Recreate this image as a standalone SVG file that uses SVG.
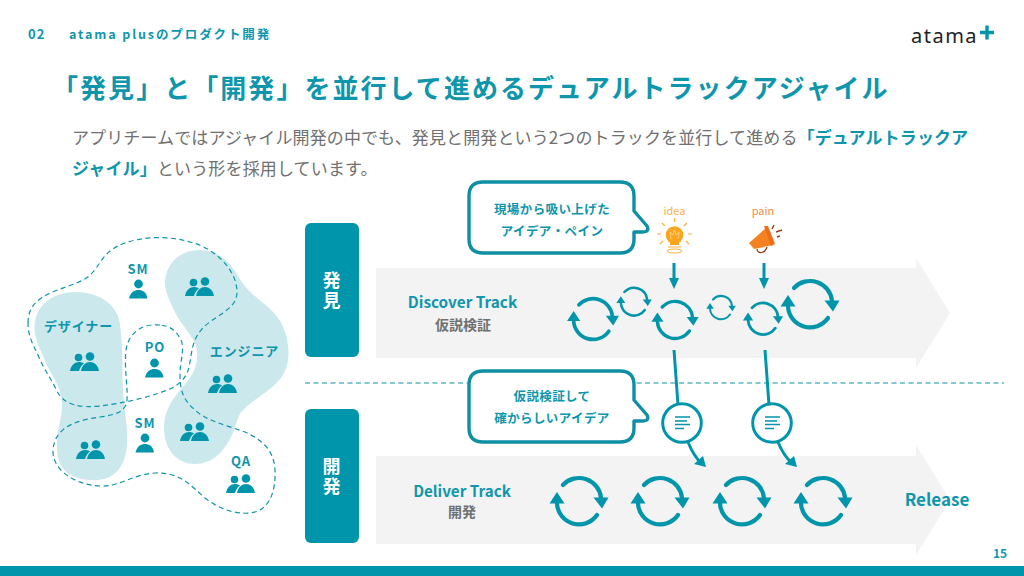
<svg xmlns="http://www.w3.org/2000/svg" width="1024" height="576" viewBox="0 0 1024 576">
<style>
text{font-family:"Noto Sans CJK JP","Noto Sans",sans-serif;font-weight:700;fill:#0f96ac}
.g{fill:#707070}
.n{font-weight:400}
.m{text-anchor:middle}
.v{writing-mode:vertical-rl;fill:#fff;letter-spacing:1.5px}
.em{fill:#0f96ac;font-weight:700}
.dash{fill:none;stroke:#0f93a8;stroke-width:1.2;stroke-dasharray:5 3.5}
.ln{fill:none;stroke:#0095aa;stroke-width:3}
.bub{fill:#fff;stroke:#0f8fa3;stroke-width:3.4;stroke-linejoin:round}
.t{fill:#0095aa}
.doc{fill:#fff;stroke:#0095aa;stroke-width:3}
.dl{stroke:#0095aa;stroke-width:1.6}
</style>
<defs>
<g id="cyc">
<path d="M-16 -15A22 22 0 0 1 22 -2M-22 3A22 22 0 0 0 18 15" fill="none" stroke="#0095aa" stroke-width="4.200" stroke-linecap="round"/>
<path d="M14.500 -2.500H29.500L23 8.500ZM-29.500 3.500H-14.500L-22 -8Z" fill="#0095aa"/>
</g>
<g id="pair" fill="#0095aa">
<circle cx="-6.500" cy="-4.500" r="3.800"/><circle cx="5" cy="-5.500" r="4.300"/>
<path d="M-15 9C-14 3 -10 0 -6 0C-4 0 -2.500 .5 -1 1.500C-4 3.500 -5 6 -6 9Z"/>
<path d="M-4 9C-3 3 1 0 5 0C9 0 13 3 14 9Z"/>
</g>
<g id="one" fill="#0095aa">
<circle cx="0" cy="-5" r="4.400"/>
<path d="M-9.500 9.500C-8 3 -4 1 0 1C4 1 8 3 9 9.500Z"/>
</g>
<g id="docI"><circle r="19.300" class="doc"/><path class="dl" d="M-7 -6H8M-7 -2H5M-7 1.500H8M-7 5.500H2"/></g>
</defs>

<rect id="footer" y="566" width="1024" height="10" fill="#0095aa"/>
<g id="header">
<text x="28" y="39" font-size="13" letter-spacing="1">02</text>
<text x="69" y="39" font-size="12.500" letter-spacing="1.900">atama plusのプロダクト開発</text>
<text x="911" y="43" font-size="20" letter-spacing="1.500" style="fill:#222;font-weight:400;font-family:'Noto Sans',sans-serif">atama</text>
<path d="M980 32.500H994M987 25.500V39.500" stroke="#0095aa" stroke-width="3.400" fill="none"/>
<text x="1000" y="558" font-size="12" class="m">15</text>
</g>
<text x="52" y="98" font-size="26" letter-spacing="2.050">「発見」と「開発」を並行して進めるデュアルトラックアジャイル</text>
<text x="72" y="144" font-size="17" class="g n" letter-spacing=".12">アプリチームではアジャイル開発の中でも、発見と開発という2つのトラックを並行して進める<tspan class="em">「デュアルトラックア</tspan></text>
<text x="72" y="175" font-size="17" class="g n" letter-spacing=".15"><tspan class="em">ジャイル」</tspan>という形を採用しています。</text>

<g id="team">
<path fill="#cbe8ec" d="M200 250C218 250 230 262 238 276C248 294 262 300 274 313C286 326 290 345 288 360C285 385 262 392 243 410C236 418 236 428 231 437C222 455 210 464 195 464C175 464 164 447 164 428C164 408 176 395 186 383C196 372 198 360 197 350C194 335 180 325 174 310C168 298 164 288 165 280C168 260 182 250 200 250Z"/>
<path fill="#cbe8ec" d="M75 292C100 292 118 305 120 325C123 345 122 370 123 390C124 410 128 425 127 445C125 470 112 480 95 480C72 481 58 470 57 450C56 430 62 420 62 405C62 385 50 375 44 358C38 345 33 335 35 322C38 303 55 292 75 292Z"/>
<path class="dash" d="M28 323C28 305 40 297 55 291C70 285 85 282 93 272C103 260 105 250 125 243C145 236 170 236 190 242C215 248 237 270 237 292C237 310 215 315 203 328C193 338 192 350 190 362C188 375 183 382 172 388C155 396 125 403 100 406C80 408 65 405 58 393C52 380 44 370 38 355C32 343 28 335 28 323Z"/>
<path class="dash" d="M160 325C140 323 128 335 126 350C124 370 128 385 127 400C126 412 115 415 100 417C80 420 55 425 53 450C52 470 75 485 100 486C120 487 130 475 155 473C180 472 190 485 205 498C220 510 240 516 255 512C270 508 276 490 275 470C274 450 262 440 245 432C225 425 205 420 195 410C183 400 180 390 180 375C180 360 185 350 181 340C176 330 170 326 160 325Z"/>
<text x="138" y="274" font-size="13" class="m" letter-spacing="1">SM</text><use href="#one" x="138.500" y="289"/>
<use href="#pair" x="200" y="287"/>
<text x="78.500" y="331" font-size="13" class="m" letter-spacing=".9">デザイナー</text><use href="#pair" x="85" y="362"/>
<text x="155" y="352" font-size="13" class="m" letter-spacing="1">PO</text><use href="#one" x="154.500" y="368"/>
<text x="244.500" y="356" font-size="13" class="m" letter-spacing=".9">エンジニア</text><use href="#pair" x="223" y="384"/>
<text x="145" y="428" font-size="13" class="m" letter-spacing="1">SM</text><use href="#one" x="145" y="443"/>
<use href="#pair" x="195" y="432"/>
<use href="#pair" x="91" y="450"/>
<text x="241" y="466" font-size="13" class="m" letter-spacing="1">QA</text><use href="#pair" x="241" y="484"/>
</g>

<path id="band1" fill="#f3f3f3" d="M376 268H916V258L950 313L916 368V358H376Z"/>
<path id="band2" fill="#f3f3f3" d="M376 456H916V445L950 500L916 555V544H376Z"/>
<line x1="305" y1="383" x2="1004" y2="383" stroke="#0f93a8" stroke-width="1.200" stroke-dasharray="5 3.500"/>

<g id="side1"><rect x="305" y="223" width="54" height="134" rx="6" fill="#0095aa"/>
<text x="331.500" y="271.500" font-size="18" class="v">発見</text></g>
<g id="side2"><rect x="305" y="409" width="54" height="134" rx="6" fill="#0095aa"/>
<text x="331.500" y="457.500" font-size="18" class="v">開発</text></g>

<g id="tracks">
<text x="462.500" y="308" font-size="15.300" class="m">Discover Track</text>
<text x="463" y="330" font-size="14" class="m g">仮説検証</text>
<text x="462" y="497" font-size="15.200" class="m">Deliver Track</text>
<text x="462" y="517" font-size="14" class="m g">開発</text>
<text x="937" y="506" font-size="17" class="m">Release</text>
</g>

<g id="cycles">
<use href="#cyc" transform="translate(593 318) scale(.88)"/>
<use href="#cyc" transform="translate(634 301) scale(.6)"/>
<use href="#cyc" transform="translate(675 319) scale(.8)"/>
<use href="#cyc" transform="translate(721 307) scale(.5)"/>
<use href="#cyc" transform="translate(763 318) scale(.68)"/>
<use href="#cyc" transform="translate(810 303) scale(1)"/>
<use href="#cyc" transform="translate(579 500)"/>
<use href="#cyc" transform="translate(660 500)"/>
<use href="#cyc" transform="translate(742 500)"/>
<use href="#cyc" transform="translate(823 500)"/>
</g>

<g id="connectors">
<path class="ln" d="M674 263V280M764 263V280"/>
<path class="t" d="M669 278H679L674 289ZM759 278H769L764 289Z"/>
<path class="ln" d="M674 350L678 405M765 350L769 405M688 442C692 452 696 458 701 463M778 442C782 452 786 458 792 463"/>
<path class="t" d="M706 467L694 464L703 456ZM797 467L785 464L794 456Z"/>
</g>

<g id="doc1"><use href="#docI" x="682" y="423"/></g>
<g id="doc2"><use href="#docI" x="772" y="423"/></g>

<g id="bubble1">
<path class="bub" d="M483 182H620Q634 182 634 196V211L647 226Q650 232 642 232H634V239Q634 253 620 253H483Q469 253 469 239V196Q469 182 483 182Z"/>
<text x="552" y="214" font-size="12.500" class="m" letter-spacing=".4">現場から吸い上げた</text>
<text x="552" y="236" font-size="12.500" class="m" letter-spacing=".4">アイデア・ペイン</text>
</g>
<g id="bubble2">
<path class="bub" d="M483 371H620Q634 371 634 385V400L647 415Q650 421 642 421H634V428Q634 442 620 442H483Q469 442 469 428V385Q469 371 483 371Z"/>
<text x="552" y="401" font-size="12.500" class="m" letter-spacing=".4">仮説検証して</text>
<text x="552" y="423" font-size="12.500" class="m" letter-spacing=".4">確からしいアイデア</text>
</g>

<g id="idea">
<text x="674.500" y="215" font-size="11" class="m n" style="fill:#f9b44a">idea</text>
<circle cx="674.500" cy="235" r="8.800" fill="#fba51f"/>
<path d="M670 241H679V245H670Z" fill="#fba51f"/>
<path d="M671 239L670 232L673 235L674.500 230L676 235L679 232L678 239" fill="none" stroke="#ffd98e" stroke-width=".8"/>
<ellipse cx="674.500" cy="251" rx="7.500" ry="2" fill="none" stroke="#fbb040" stroke-width="1"/>
<path d="M674.500 218V222M662 223L665 226M687 223L684 226M657 234H661M688 234H692M660 244L663 241M689 244L686 241M668 247H681" stroke="#fbb040" stroke-width="1.200" fill="none"/>
</g>
<g id="pain">
<text x="763" y="215" font-size="11" class="m n" style="fill:#ee8a4f">pain</text>
<path d="M749 243L766 228L773 245L754 249Z" fill="#f58220"/>
<path d="M764 226L768 226L775 244L771 246Z" fill="#ee6c1b"/>
<path d="M757 249C757 254 765 254 767 247" fill="none" stroke="#8a3a1f" stroke-width="1.200"/>
<path d="M772 229L774 225M776 232L782 230M777 237L780 236" stroke="#9a3b2a" stroke-width="1.400" fill="none"/>
</g>
</svg>
